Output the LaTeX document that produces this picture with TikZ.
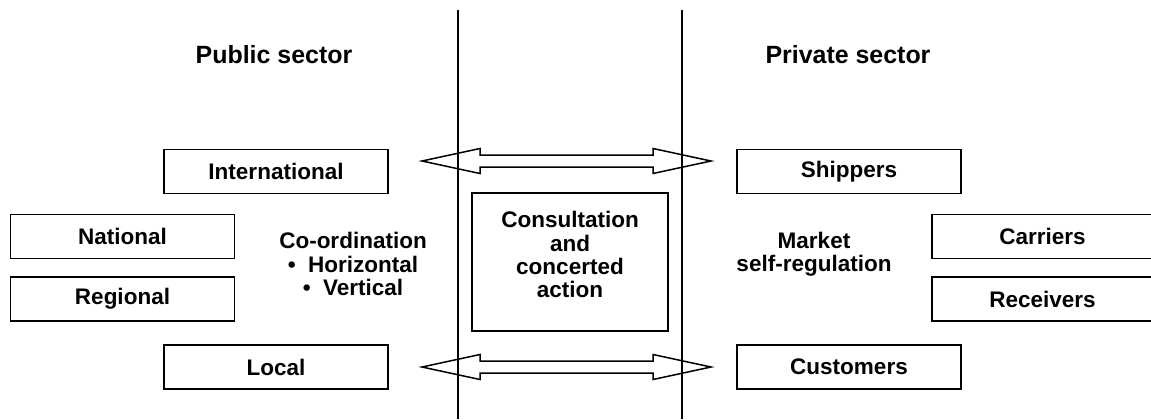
\documentclass[tikz,border=0pt]{standalone}
\usepackage{fontspec}
\setmainfont{Liberation Sans}
\begin{document}
\begin{tikzpicture}[x=0.5333pt,y=-0.5333pt,
  font=\fontsize{12}{12.3}\selectfont\bfseries,
  box/.style={draw, line width=0.8pt, inner sep=0pt, minimum height=44*0.5333pt, minimum width=224*0.5333pt},
  label/.style={align=center, inner sep=0pt},
  heading/.style={inner sep=0pt, font=\fontsize{13.3}{14}\selectfont\bfseries},
  sepline/.style={line width=1.1pt},
  dblarrow/.style={line width=0.8pt, line join=miter}]
\useasboundingbox (0,0) rectangle (1151,419);

% separating lines
\draw[sepline] (458,10) -- (458,419);
\draw[sepline] (682,10) -- (682,419);

% headings
\node[heading] (pub) at (274,55) {Public sector};
\node[heading] (priv) at (848,55) {Private sector};

% public sector boxes
\node[box] (intl) at (276,171.5) {International};
\node[box] (nat)  at (122.5,236.5) {National};
\node[box] (reg)  at (122.5,299) {Regional};
\node[box] (loc)  at (276,367) {Local};

% private sector boxes
\node[box] (ship) at (849,171.5) {Shippers};
\node[box, minimum width=221*0.5333pt] (carr) at (1042.5,236.5) {Carriers};
\node[box, minimum width=221*0.5333pt] (recv) at (1042.5,299) {Receivers};
\node[box] (cust) at (849,367) {Customers};

% middle texts
\node[label] (coord) at (353,264) {Co-ordination\\\textbullet\hspace{0.55em}Horizontal\\\textbullet\hspace{0.55em}Vertical};
\node[label] (market) at (814,254) {Market\\self-regulation};

% centre box
\node[box, minimum width=196*0.5333pt, minimum height=138*0.5333pt] (cons) at (570,262) {};
\node[label] (constext) at (570,254.5) {Consultation\\and\\concerted\\action};

% double arrows
\draw[dblarrow] (422,161) -- (480,148.5) -- (480,155) -- (653,155) -- (653,148.5) -- (711,161)
  -- (653,173.5) -- (653,167) -- (480,167) -- (480,173.5) -- cycle;
\draw[dblarrow] (422,367) -- (480,354.5) -- (480,361) -- (653,361) -- (653,354.5) -- (711,367)
  -- (653,379.5) -- (653,373) -- (480,373) -- (480,379.5) -- cycle;
\end{tikzpicture}
\end{document}
